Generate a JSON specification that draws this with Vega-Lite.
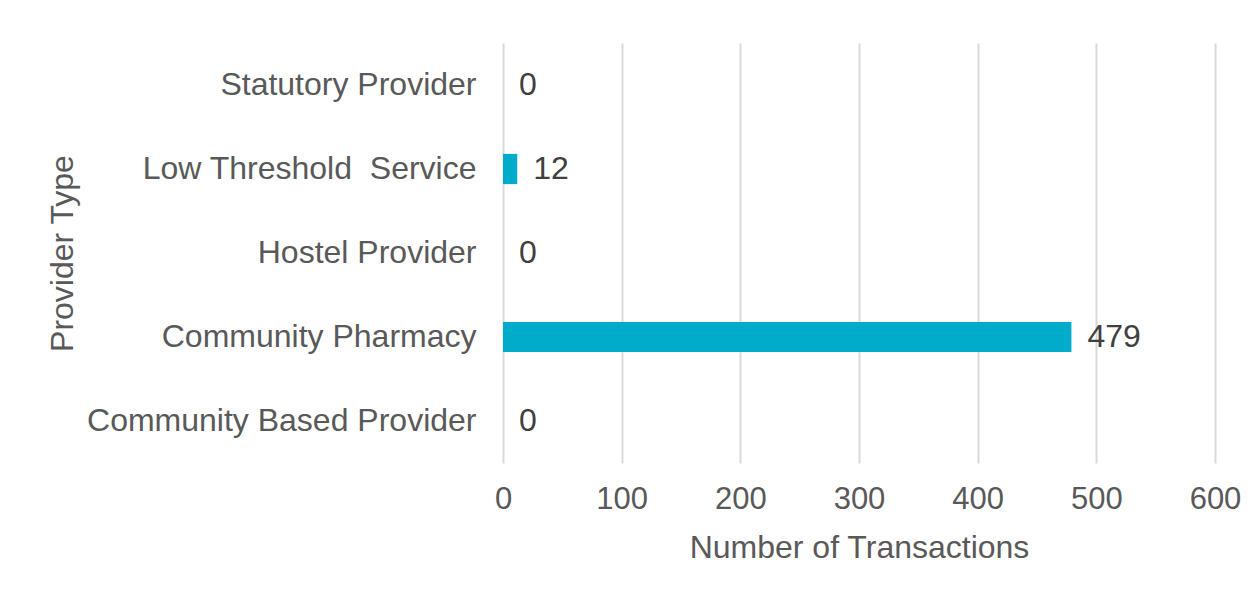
{
  "$schema": "https://vega.github.io/schema/vega-lite/v6.json",
  "autosize": "none",
  "width": 712,
  "height": 420,
  "padding": {"left": 503, "top": 43, "right": 45, "bottom": 127},
  "background": "white",
  "config": {
    "font": "Liberation Sans",
    "view": {"stroke": null}
  },
  "data": {
    "values": [
      {"provider": "Statutory Provider", "transactions": 0},
      {"provider": "Low Threshold\u00a0 Service", "transactions": 12},
      {"provider": "Hostel Provider", "transactions": 0},
      {"provider": "Community Pharmacy", "transactions": 479},
      {"provider": "Community Based Provider", "transactions": 0}
    ]
  },
  "encoding": {
    "y": {
      "field": "provider",
      "type": "nominal",
      "sort": null,
      "scale": {"paddingInner": 0.64, "paddingOuter": 0.32},
      "axis": {
        "title": "Provider Type",
        "titleFont": "Liberation Sans",
        "titleFontSize": 32,
        "titleFontWeight": "normal",
        "titleColor": "#595959",
        "titleX": -441,
        "titleY": 210,
        "titleBaseline": "middle",
        "titleAngle": -90,
        "titleAlign": "center",
        "labelFont": "Liberation Sans",
        "labelFontSize": 32,
        "labelColor": "#595959",
        "labelPadding": 27,
        "ticks": false,
        "domain": false,
        "labelLimit": 600
      }
    },
    "x": {
      "field": "transactions",
      "type": "quantitative",
      "scale": {"domain": [0, 600], "nice": false},
      "axis": {
        "title": "Number of Transactions",
        "titleFont": "Liberation Sans",
        "titleFontSize": 32,
        "titleFontWeight": "normal",
        "titleColor": "#595959",
        "titleX": 356,
        "titleY": 94,
        "titleBaseline": "alphabetic",
        "titleAlign": "center",
        "values": [0, 100, 200, 300, 400, 500, 600],
        "labelFont": "Liberation Sans",
        "labelFontSize": 31,
        "labelColor": "#595959",
        "labelPadding": 21,
        "labelFlush": false,
        "labelOverlap": false,
        "ticks": false,
        "domain": false,
        "grid": true,
        "gridColor": "#d9d9d9",
        "gridWidth": 2
      }
    }
  },
  "layer": [
    {
      "mark": {"type": "bar", "color": "#00acc9"}
    },
    {
      "mark": {
        "type": "text",
        "align": "left",
        "baseline": "middle",
        "dx": 16,
        "font": "Liberation Sans",
        "fontSize": 32,
        "color": "#404040"
      },
      "encoding": {
        "text": {"field": "transactions", "type": "quantitative"}
      }
    }
  ]
}
